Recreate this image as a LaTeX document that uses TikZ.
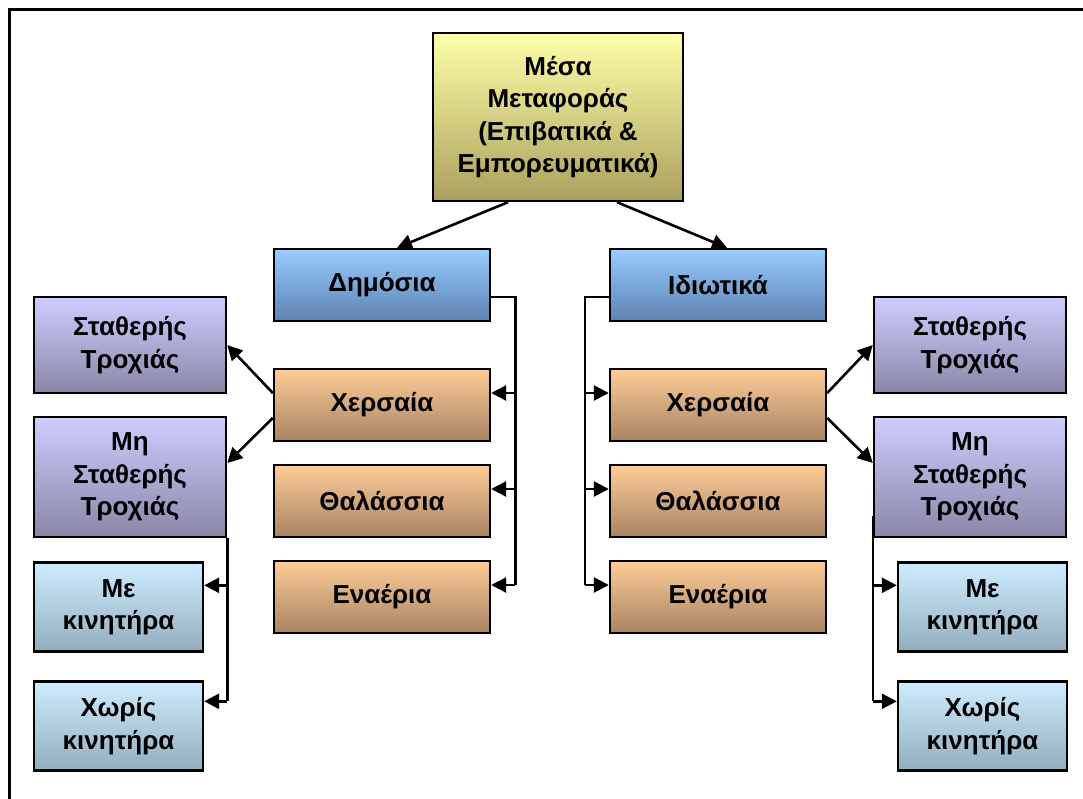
\documentclass[tikz,border=0pt]{standalone}
\usepackage{fontspec}
\setmainfont{Liberation Sans}
\usepackage{tikz}
\usetikzlibrary{arrows.meta, calc}
\definecolor{rootTop}{RGB}{255, 255, 168}
\definecolor{rootBot}{RGB}{170, 160, 94}
\definecolor{ownTop}{RGB}{153, 204, 255}
\definecolor{ownBot}{RGB}{92, 130, 178}
\definecolor{modeTop}{RGB}{255, 204, 153}
\definecolor{modeBot}{RGB}{168, 132, 98}
\definecolor{trackTop}{RGB}{206, 206, 255}
\definecolor{trackBot}{RGB}{138, 134, 168}
\definecolor{motorTop}{RGB}{206, 236, 255}
\definecolor{motorBot}{RGB}{147, 174, 189}

\tikzset{
    box/.style={draw=black, line width=2.4pt, align=center, inner sep=0pt,
        font=\bfseries\fontsize{26}{32.5}\selectfont},
    rootbox/.style={box, top color=rootTop, bottom color=rootBot,
        minimum width=250, minimum height=168},
    ownbox/.style={box, top color=ownTop, bottom color=ownBot,
        minimum width=216, minimum height=72},
    modebox/.style={box, top color=modeTop, bottom color=modeBot,
        minimum width=216, minimum height=72},
    trackbox/.style={box, top color=trackTop, bottom color=trackBot,
        minimum width=192},
    motorbox/.style={box, top color=motorTop, bottom color=motorBot,
        minimum width=169, minimum height=89},
    link/.style={line width=2.6pt},
    arr/.style={line width=2.6pt, -{Triangle[length=15pt, width=15pt]}}
}

\begin{document}
\begin{tikzpicture}[x=1pt, y=-1pt]
    \useasboundingbox (0,0) rectangle (1083,798);
    % outer frame
    \draw[line width=3pt] (9,800) -- (9,9) -- (1085,9);

    % root
    \node[rootbox] (root) at (558,117) {Μέσα\\Μεταφοράς\\(Επιβατικά \&\\Εμπορευματικά)};

    % public / private
    \node[ownbox] (pub) at (382,285) {Δημόσια};
    \node[ownbox] (priv) at (718,285) {Ιδιωτικά};

    % modes
    \node[modebox] (pland) at (382,405) {Χερσαία};
    \node[modebox] (psea) at (382,501) {Θαλάσσια};
    \node[modebox] (pair) at (382,597) {Εναέρια};
    \node[modebox] (rland) at (718,405) {Χερσαία};
    \node[modebox] (rsea) at (718,501) {Θαλάσσια};
    \node[modebox] (rair) at (718,597) {Εναέρια};

    % tracks, left
    \node[trackbox, minimum height=96] (lfix) at (130,345) {Σταθερής\\Τροχιάς};
    \node[trackbox, minimum height=120] (lfree) at (130,477) {Μη\\Σταθερής\\Τροχιάς};
    \node[motorbox] (lmot) at (118.5,607) {Με\\κινητήρα};
    \node[motorbox] (lnomot) at (118.5,726) {Χωρίς\\κινητήρα};

    % tracks, right
    \node[trackbox, minimum height=96] (rfix) at (970,345) {Σταθερής\\Τροχιάς};
    \node[trackbox, minimum height=120] (rfree) at (970,477) {Μη\\Σταθερής\\Τροχιάς};
    \node[motorbox] (rmot) at (982.5,607) {Με\\κινητήρα};
    \node[motorbox] (rnomot) at (982.5,726) {Χωρίς\\κινητήρα};

    % root to owners
    \draw[arr] ($(root.south)+(-50,0)$) -- ($(pub.north)+(15,0)$);
    \draw[arr] ($(root.south)+(59,0)$) -- ($(priv.north)+(9,0)$);

    % public bracket
    \coordinate (pbus) at ($(pair.east)+(24,-12)$);
    \draw[link] ($(pub.east)+(0,12)$) -| (pbus);
    \draw[arr] ($(pland.east)+(24,-12)$) -- ($(pland.east)+(0,-12)$);
    \draw[arr] ($(psea.east)+(24,-12)$) -- ($(psea.east)+(0,-12)$);
    \draw[arr] (pbus) -- ($(pair.east)+(0,-12)$);

    % private bracket
    \coordinate (rbus) at ($(rair.west)+(-24,-12)$);
    \draw[link] ($(priv.west)+(0,12)$) -| (rbus);
    \draw[arr] ($(rland.west)+(-24,-12)$) -- ($(rland.west)+(0,-12)$);
    \draw[arr] ($(rsea.west)+(-24,-12)$) -- ($(rsea.west)+(0,-12)$);
    \draw[arr] (rbus) -- ($(rair.west)+(0,-12)$);

    % land to tracks
    \draw[arr] ($(pland.west)+(0,-12)$) -- (lfix.east);
    \draw[arr] ($(pland.west)+(0,13)$) -- ($(lfree.east)+(0,-14)$);
    \draw[arr] ($(rland.east)+(0,-12)$) -- (rfix.west);
    \draw[arr] ($(rland.east)+(0,13)$) -- ($(rfree.west)+(0,-14)$);

    % free track to motor
    \coordinate (lbus) at ($(lnomot.north east)+(23,21)$);
    \draw[link] (lfree.south east) -- (lbus);
    \draw[arr] ($(lmot.north east)+(23,24)$) -- ($(lmot.north east)+(0,24)$);
    \draw[arr] (lbus) -- ($(lnomot.north east)+(0,21)$);
    \coordinate (rbus2) at ($(rnomot.north west)+(-24,21)$);
    \draw[link] ($(rfree.south west)+(0,-22)$) -- (rbus2);
    \draw[arr] ($(rmot.north west)+(-24,24)$) -- ($(rmot.north west)+(0,24)$);
    \draw[arr] (rbus2) -- ($(rnomot.north west)+(0,21)$);
\end{tikzpicture}
\end{document}
